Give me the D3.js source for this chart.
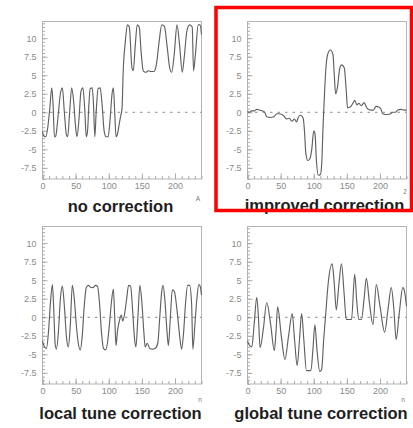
<!DOCTYPE html>
<html>
<head>
<meta charset="utf-8">
<script src="https://cdn.jsdelivr.net/npm/d3@7"></script>
<style>
  html, body { margin: 0; padding: 0; background: #fff; }
  svg { display: block; }
</style>
</head>
<body>
<script>
// Panel titles and the small axis marks in their corners
const titles = ["no correction", "improved correction", "local tune correction", "global tune correction"];
const cornerMarks = ["A", "2", "n", "n"];

// Axis ticks
const xTicks = [0, 50, 100, 150, 200];
const xTickLabels = ["0", "50", "100", "150", "200"];
const yTicks = [-7.5, -5, -2.5, 0, 2.5, 5, 7.5, 10];
const yTickLabels = ["-7.5", "-5", "-2.5", "0", "2.5", "5", "7.5", "10"];
const xDomain = [0, 240];
const yDomain = [-9, 12.25];

// Series: sample positions and values for each panel
const noCorrX = [0, 2, 5, 8, 11, 14, 16, 18, 20, 23, 27, 30, 33, 36, 38, 41, 44, 47, 50, 52, 55, 58, 61, 64, 66, 68, 70, 72, 75, 77, 79, 81, 84, 87, 90, 93, 96, 99, 102, 105, 107, 109, 111, 113, 116, 118, 120, 122, 125, 128, 131, 135, 137, 140, 143, 146, 149, 152, 156, 160, 164, 168, 172, 176, 180, 184, 188, 192, 195, 199, 203, 207, 211, 214, 218, 222, 226, 228, 231, 235, 238, 240];
const noCorrY = [-2.6, -3.2, -3.3, -2, 0.5, 3.3, 1, -3.3, -3.2, -1, 2.5, 3.3, 0, -3, -3.3, 0, 3.3, 1.5, -2, -3.3, -1, 2.8, 3.3, 0, -3.3, -2.5, 1, 3.2, 3.3, 1, -3.3, 0, 3.2, 3.3, 1, -2.5, -3.3, -3.3, -1, 2.5, 3.3, 0, -3.3, -3, -1.5, -0.5, 0.5, 6, 9.5, 11.8, 11.5, 6, 5.6, 9, 11.8, 11.5, 8, 5.6, 5.4, 5.6, 5.5, 5.5, 6.5, 9.5, 11.8, 11.6, 9, 6, 5.4, 8, 11.8, 9, 5.4, 7.5, 11, 11.8, 11.5, 5.6, 8, 11.8, 11.8, 10.5];

const improvedX = [0, 3, 6, 10, 14, 18, 22, 26, 29, 34, 40, 44, 48, 52, 55, 59, 63, 67, 71, 74, 77, 80, 84, 86, 88, 91, 94, 97, 100, 102, 104, 107, 110, 112, 114, 116, 118, 121, 125, 129, 131, 133, 136, 139, 142, 146, 149, 151, 155, 159, 162, 165, 168, 172, 176, 179, 182, 186, 190, 194, 198, 201, 204, 208, 212, 216, 219, 223, 227, 232, 236, 240];
const improvedY = [0.1, 0, 0.2, 0.2, 0.4, 0.3, 0.2, 0, -0.6, -0.7, -0.6, -0.2, -0.2, -0.3, -0.5, -0.9, -0.8, -1.2, -0.9, -1.3, -0.6, -0.4, -0.8, -2.5, -5.5, -6.5, -6.3, -5, -2.5, -3, -6.5, -8.5, -8.4, -7, -2, 2, 5.5, 7.8, 8.4, 7.8, 5, 2.5, 3.5, 5.8, 6.4, 6, 3, 0.6, 0.7, 1.2, 1.6, 1, 1.2, 0.9, 1.3, 0.8, 0.4, 0.3, 0.3, 0.8, 0.7, 0.5, -0.2, -0.3, -0.3, -0.2, 0, 0, 0.3, 0.4, 0.3, 0.3];

const localX = [0, 3, 6, 9, 12, 15, 17, 19, 21, 24, 27, 30, 33, 36, 39, 42, 45, 48, 51, 54, 57, 60, 63, 66, 69, 72, 76, 80, 83, 86, 89, 92, 95, 98, 101, 104, 107, 109, 111, 113, 116, 119, 121, 124, 127, 130, 133, 136, 139, 141, 144, 147, 150, 153, 155, 158, 162, 166, 170, 174, 177, 180, 182, 185, 188, 190, 193, 196, 199, 203, 207, 210, 213, 216, 219, 222, 225, 227, 230, 233, 236, 238, 240];
const localY = [-3.2, -4, -4.2, -2, 2, 4.4, 1, -3.5, -4.3, -2, 2.5, 4.2, 1.5, -2.5, -4, -1, 4.3, 2.5, -1, -3.5, -4.4, -2.5, 1.5, 4, 4.3, 4.1, 4, 4.3, 4.2, 2, -2, -4.2, -4.4, -3.5, -1, 2, 3.8, 0, -3.8, -2, -0.5, 0.3, -0.5, 0.5, 2.5, 4.3, 4.2, 1, -3, -4, 0, 4.3, 2, -2, -4, -3.5, -4.2, -4.3, -4.2, -3.5, 0, 3.5, 4.3, 2, -2, -3.8, 0, 3.7, 3.5, 1, -2.5, -4.3, -2, 2, 4.3, 4.3, 2, -4.3, -1, 2.5, 4.4, 4.2, 3];

const globalX = [0, 3, 6.5, 10, 14, 16.5, 19, 24, 29, 35, 40.5, 43, 45.5, 51, 56.5, 62, 67.5, 71, 75, 78.5, 81.7, 85, 89, 95.7, 99, 101.7, 105, 109, 112, 115, 117.7, 121.7, 127.8, 131, 134, 138, 141.8, 146, 149, 153, 157, 161.8, 165, 168, 172, 176, 179.4, 184, 189.4, 194.4, 200, 207, 212, 217, 221, 224.4, 229, 234.5, 237, 240];
const globalY = [-3.2, -3.8, -4, -1, 2.7, 0, -4.1, -1.5, 2, -1, -4.5, -2, 1.4, -2.5, -5.7, -2.5, 0.5, -3, -6.5, -3, 0.5, -3, -7.2, -7.2, -4, -1, -4.5, -7.3, -7, -3, 0, 4.5, 7.2, 4.5, 1, 4.5, 7.2, 3, -0.3, -0.3, -0.3, 5.8, 2, -0.3, -0.3, 2.5, 5.3, 2, -1, 4.4, 1.5, -2, 1, 4, 1, -3, 0.5, 4, 3.5, 1.5];

const seriesX = [noCorrX, improvedX, localX, globalX];
const seriesY = [noCorrY, improvedY, localY, globalY];

// Panel layout
const W = 413, H = 428;
const panelW = 159, panelH = 157.5;
const panelLeft = [42.5, 247.5, 42.5, 247.5];
const panelTop = [21.5, 21.5, 226.5, 226.5];
const titleCx = [120.5, 324.5, 120.5, 321];
const titleBase = [211.5, 211, 418.5, 418.5];
const markPos = [[198, 201], [405, 194], [200, 401.5], [403, 401.5]];

const svg = d3.select("body").append("svg")
  .attr("width", W).attr("height", H)
  .style("font-family", "'Liberation Sans', Arial, sans-serif");

titles.forEach((title, i) => {
  const x = d3.scaleLinear().domain(xDomain).range([0, panelW]);
  const y = d3.scaleLinear().domain(yDomain).range([panelH, 0]);
  const g = svg.append("g").attr("transform", `translate(${panelLeft[i]},${panelTop[i]})`);

  // frame
  g.append("rect")
    .attr("x", 0).attr("y", 0).attr("width", panelW).attr("height", panelH)
    .attr("fill", "none").attr("stroke", "#b4b4b4").attr("stroke-width", 1);

  // minor y ticks
  g.append("g")
    .call(d3.axisLeft(y).tickValues(d3.range(-9, 12.01, 0.5)).tickSize(-2.5).tickFormat(""))
    .call(a => a.select(".domain").remove())
    .call(a => a.selectAll("line").attr("stroke", "#aaa"));
  // major y ticks + labels
  g.append("g")
    .call(d3.axisLeft(y).tickValues(yTicks).tickSize(-5).tickPadding(6)
      .tickFormat((d, k) => yTickLabels[k]))
    .call(a => a.select(".domain").remove())
    .call(a => a.selectAll("line").attr("stroke", "#aaa"))
    .call(a => a.selectAll("text").attr("fill", "#8a8a8a").style("font-size", "9px"));

  // minor x ticks
  g.append("g").attr("transform", `translate(0,${panelH})`)
    .call(d3.axisBottom(x).tickValues(d3.range(0, 241, 10)).tickSize(-3).tickFormat(""))
    .call(a => a.select(".domain").remove())
    .call(a => a.selectAll("line").attr("stroke", "#aaa"));
  // major x ticks + labels
  g.append("g").attr("transform", `translate(0,${panelH})`)
    .call(d3.axisBottom(x).tickValues(xTicks).tickSize(-5.5).tickPadding(4)
      .tickFormat((d, k) => xTickLabels[k]))
    .call(a => a.select(".domain").remove())
    .call(a => a.selectAll("line").attr("stroke", "#aaa"))
    .call(a => a.selectAll("text").attr("fill", "#8a8a8a").style("font-size", "9px"));

  // dashed zero line
  g.append("line")
    .attr("x1", x(0)).attr("x2", x(240)).attr("y1", y(0)).attr("y2", y(0))
    .attr("stroke", "#8c8c8c").attr("stroke-width", 1).attr("stroke-dasharray", "2.5,5");

  // series curve
  const pts = seriesX[i].map((xv, k) => [xv, seriesY[i][k]]);
  g.append("path")
    .datum(pts)
    .attr("fill", "none")
    .attr("stroke", "#606060")
    .attr("stroke-width", 1.15)
    .attr("d", d3.line().x(d => x(d[0])).y(d => y(d[1])).curve(d3.curveMonotoneX));

  // title
  svg.append("text")
    .attr("x", titleCx[i]).attr("y", titleBase[i])
    .attr("text-anchor", "middle")
    .attr("fill", "#1e1e1e")
    .style("font-size", "16.5px").style("font-weight", "bold")
    .text(title);

  // small corner mark
  svg.append("text")
    .attr("x", markPos[i][0]).attr("y", markPos[i][1])
    .attr("text-anchor", "middle")
    .attr("fill", "#777")
    .style("font-size", "6.5px")
    .text(cornerMarks[i]);
});

// highlight box around the improved panel
svg.append("rect")
  .attr("x", 216).attr("y", 7.5).attr("width", 195.5).attr("height", 203)
  .attr("fill", "none").attr("stroke", "#ff0000").attr("stroke-width", 3.5);
</script>
</body>
</html>
